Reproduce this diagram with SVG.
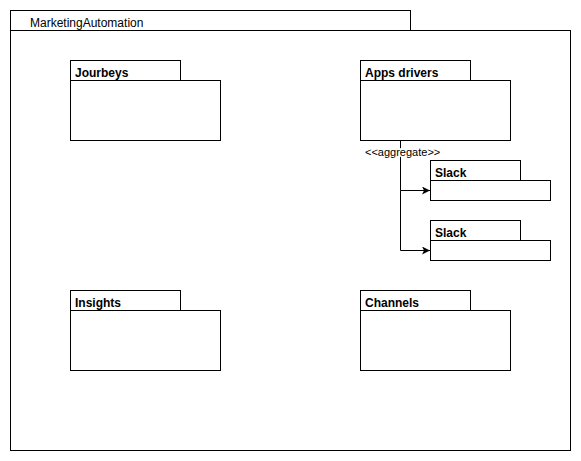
<svg xmlns="http://www.w3.org/2000/svg" width="581" height="461" viewBox="0 0 581 461">
<style>
.s{fill:#fff;stroke:#000;stroke-width:1}
.t{font-family:"Liberation Sans",Arial,sans-serif;font-size:12px;fill:#000}
.b{font-weight:bold}
.c{fill:none;stroke:#000;stroke-width:1}
</style>
<defs>
<marker id="ah" viewBox="0 0 10 10" refX="10" refY="5" markerWidth="8" markerHeight="8" markerUnits="userSpaceOnUse" orient="auto">
<path d="M0,0 L10,5 L0,10 L2.5,5 Z" fill="#000"/>
</marker>
</defs>
<rect width="581" height="461" fill="#fff"/>
<g id="MarketingAutomation">
<rect class="s" x="10.5" y="10.5" width="400" height="20"/>
<rect class="s" x="10.5" y="30.5" width="560" height="420"/>
<text class="t" x="30" y="27">MarketingAutomation</text>
</g>
<g id="Jourbeys">
<rect class="s" x="70.5" y="60.5" width="110" height="20"/>
<rect class="s" x="70.5" y="80.5" width="150" height="60"/>
<text class="t b" x="75" y="77">Jourbeys</text>
</g>
<g id="AppsDrivers">
<rect class="s" x="360.5" y="60.5" width="110" height="20"/>
<rect class="s" x="360.5" y="80.5" width="150" height="60"/>
<text class="t b" x="365" y="77">Apps drivers</text>
</g>
<g id="Slack1">
<rect class="s" x="430.5" y="160.5" width="90" height="20"/>
<rect class="s" x="430.5" y="180.5" width="120" height="20"/>
<text class="t b" x="435" y="177">Slack</text>
</g>
<g id="Slack2">
<rect class="s" x="430.5" y="220.5" width="90" height="20"/>
<rect class="s" x="430.5" y="240.5" width="120" height="20"/>
<text class="t b" x="435" y="237">Slack</text>
</g>
<g id="Insights">
<rect class="s" x="70.5" y="290.5" width="110" height="20"/>
<rect class="s" x="70.5" y="310.5" width="150" height="60"/>
<text class="t b" x="75" y="307">Insights</text>
</g>
<g id="Channels">
<rect class="s" x="360.5" y="290.5" width="110" height="20"/>
<rect class="s" x="360.5" y="310.5" width="150" height="60"/>
<text class="t b" x="365" y="307">Channels</text>
</g>
<g id="connectors">
<path class="c" d="M400.5,140.5 V190.5 H430" marker-end="url(#ah)"/>
<path class="c" d="M400.5,190.5 V250.5 H430" marker-end="url(#ah)"/>
<text x="365" y="156" font-family="'Liberation Sans',Arial,sans-serif" font-size="11" fill="#000" style="paint-order:stroke" stroke="#fff" stroke-width="3">&lt;&lt;aggregate&gt;&gt;</text>
</g>
</svg>
